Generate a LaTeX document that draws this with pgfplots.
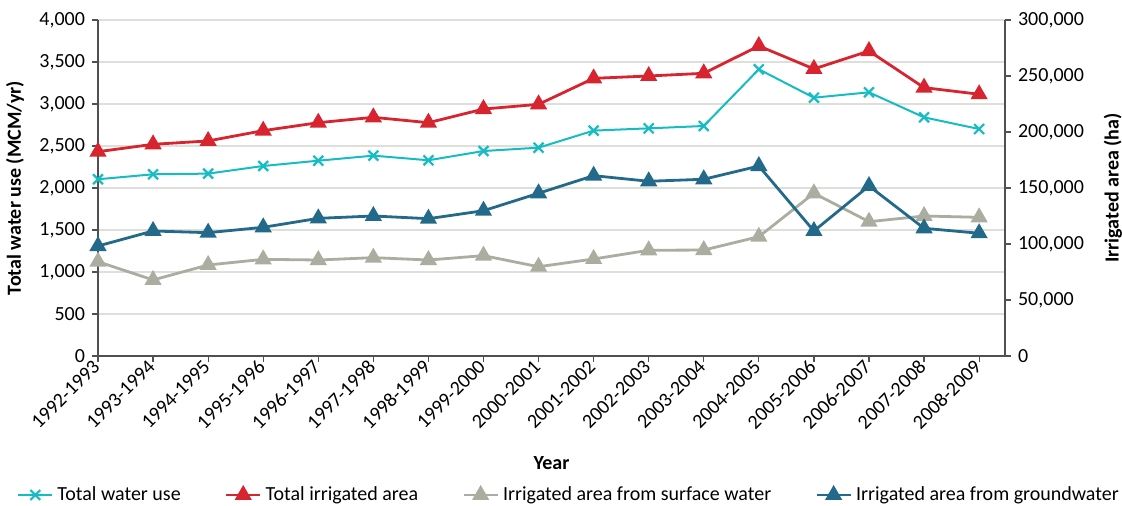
\documentclass[border=0pt]{standalone}
\usepackage{fontspec}
\setmainfont{Carlito}
\usepackage{pgfplots}
\pgfplotsset{compat=1.18}

\definecolor{wateruse}{RGB}{22,188,196}
\definecolor{totalirr}{RGB}{215,36,47}
\definecolor{surface}{RGB}{170,173,160}
\definecolor{ground}{RGB}{35,106,138}
\definecolor{gridgray}{RGB}{222,222,218}
\definecolor{axisgray}{RGB}{80,80,80}

\pgfplotsset{
  common/.style={
    at={(49pt,75pt)}, anchor=south west,
    scale only axis, width=453.5pt, height=168pt,
    xmin=0, xmax=16.47,
    tick align=outside, major tick length=3pt,
    tick style={axisgray, line width=0.6pt},
    axis line style={axisgray, line width=0.7pt},
    every tick label/.append style={font=\fontsize{10}{12}\selectfont},
    /pgf/number format/assume math mode=true,
    /pgf/number format/fixed,
    /pgf/number format/1000 sep={,},
    label style={font=\fontsize{10}{12}\selectfont\bfseries},
  },
}

\begin{document}
\begin{tikzpicture}
\useasboundingbox (0,0) rectangle (561pt,253pt);

% left axis: total water use
\begin{axis}[
  common,
  ymin=0, ymax=4000,
  axis x line*=bottom, axis y line*=left,
  xtick={0,...,16},
  xticklabels={1992-1993,1993-1994,1994-1995,1995-1996,1996-1997,1997-1998,1998-1999,1999-2000,2000-2001,2001-2002,2002-2003,2003-2004,2004-2005,2005-2006,2006-2007,2007-2008,2008-2009},
  xticklabel style={rotate=45, anchor=east, inner sep=1pt},
  ytick={0,500,...,4000},
  ymajorgrids, grid style={gridgray, line width=0.75pt},
  xlabel={Year},
  xlabel style={at={(axis description cs:0.5,-0.318)}, anchor=center},
  ylabel={Total water use (MCM/yr)},
  ylabel style={at={(axis description cs:-0.0915,0.5)}, anchor=center},
]
\addplot[wateruse, line width=1pt, mark=x, mark size=3.5pt, mark options={line width=1.1pt}] coordinates {
  (0,2104) (1,2163) (2,2171) (3,2262) (4,2325) (5,2385) (6,2330)
  (7,2440) (8,2480) (9,2683) (10,2710) (11,2738) (12,3413)
  (13,3075) (14,3139) (15,2841) (16,2702)
};
\end{axis}

% right axis: irrigated areas
\begin{axis}[
  common,
  ymin=0, ymax=300000,
  axis y line*=right, axis x line=none,
  ytick={0,50000,...,300000},
  scaled y ticks=false,
  ylabel={Irrigated area (ha)},
  ylabel style={at={(axis description cs:1.119,0.5)}, anchor=center},
  legend columns=4,
  legend style={at={(0.5204,-0.4137)}, anchor=center, draw=none, fill=none,
    font=\fontsize{10}{12}\selectfont,
    /tikz/every even column/.append style={column sep=20pt}},
  legend cell align=left,
]
\addlegendimage{wateruse, line width=1pt, mark=x, mark size=3.5pt, mark options={line width=1.1pt}}
\addlegendentry{Total water use}
\addplot[totalirr, line width=1.4pt, mark=triangle*, mark size=3.6pt] coordinates {
  (0,182400) (1,189000) (2,192000) (3,201200) (4,208300) (5,213100) (6,208300)
  (7,220500) (8,224700) (9,247900) (10,250000) (11,252400) (12,276800)
  (13,256300) (14,272300) (15,239600) (16,233700)
};
\addlegendentry{Total irrigated area}
\addplot[surface, line width=1.4pt, mark=triangle*, mark size=3.6pt] coordinates {
  (0,84200) (1,67900) (2,81250) (3,86300) (4,85700) (5,87800) (6,85700)
  (7,89600) (8,79700) (9,86600) (10,94400) (11,94600) (12,106500)
  (13,145300) (14,119900) (15,125000) (16,123800)
};
\addlegendentry{Irrigated area from surface water}
\addplot[ground, line width=1.4pt, mark=triangle*, mark size=3.6pt] coordinates {
  (0,98200) (1,111600) (2,110100) (3,114900) (4,122900) (5,125000) (6,122600)
  (7,129700) (8,145300) (9,161000) (10,156000) (11,157800) (12,169600)
  (13,111600) (14,151800) (15,114000) (16,109600)
};
\addlegendentry{Irrigated area from groundwater}
\end{axis}
\end{tikzpicture}
\end{document}
